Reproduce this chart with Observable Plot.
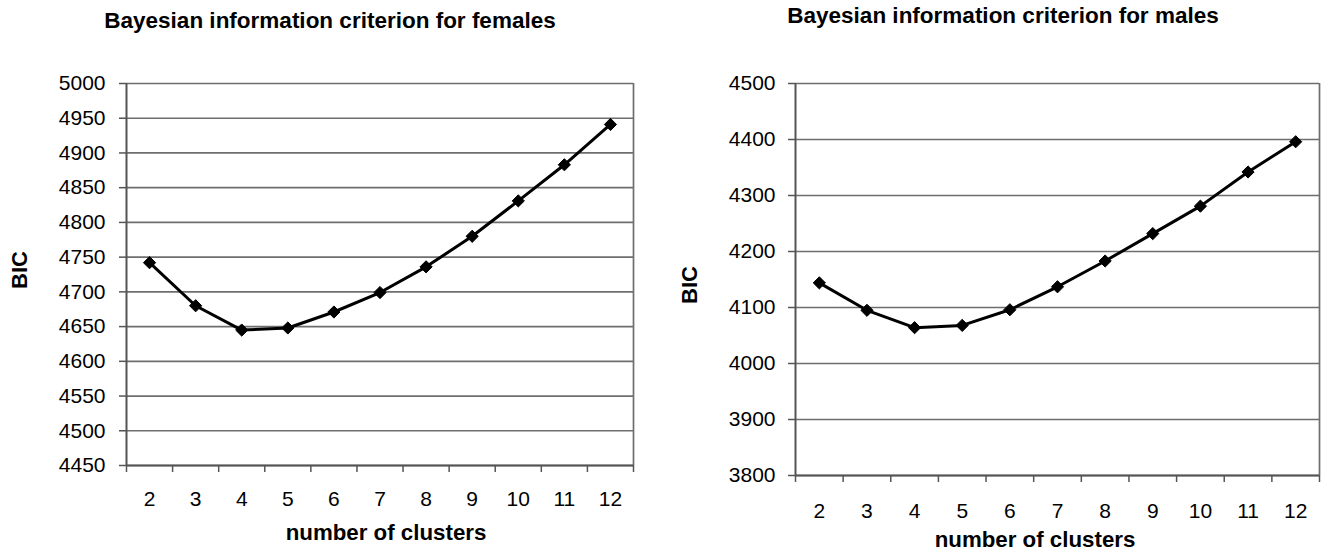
<!DOCTYPE html>
<html>
<head>
<meta charset="utf-8">
<script src="https://cdn.jsdelivr.net/npm/d3@7"></script>
<script src="https://cdn.jsdelivr.net/npm/@observablehq/plot@0.6"></script>
<style>
  html, body { margin: 0; padding: 0; background: #fff; }
  #wrap { position: relative; width: 1321px; height: 554px; overflow: hidden; background: #fff; }
  #wrap > svg { position: absolute; top: 0; }
  .lbl { font-family: "Liberation Sans", Arial, sans-serif; font-weight: bold; fill: #000; }
</style>
</head>
<body>
<div id="wrap"></div>
<script>
// ---- data ----
const clusters = [2, 3, 4, 5, 6, 7, 8, 9, 10, 11, 12];
const bicFemales = [4742, 4680, 4645, 4648, 4671, 4699, 4736, 4780, 4831, 4883, 4941];
const bicMales = [4144, 4095, 4064, 4068, 4096, 4137, 4183, 4232, 4281, 4342, 4396];
const femaleTicks = [4450, 4500, 4550, 4600, 4650, 4700, 4750, 4800, 4850, 4900, 4950, 5000];
const maleTicks = [3800, 3900, 4000, 4100, 4200, 4300, 4400, 4500];
const titleFemales = "Bayesian information criterion for females";
const titleMales = "Bayesian information criterion for males";
const xLabel = "number of clusters";
const yLabel = "BIC";

const font = "Liberation Sans, Arial, sans-serif";
const edges = clusters.map(c => c - 0.5).concat([clusters[clusters.length - 1] + 0.5]);

function chart({values, ticks, width, marginLeft, marginRight, marginBottom, yPad, xPad}) {
  const data = clusters.map((c, i) => ({k: c, v: values[i]}));
  const domain = [ticks[0], ticks[ticks.length - 1]];
  const node = Plot.plot({
    width, height: 554,
    marginLeft, marginRight, marginTop: 83, marginBottom,
    style: {fontFamily: font, fontSize: "21px", color: "#000", background: "transparent", overflow: "visible"},
    x: {domain: [edges[0], edges[edges.length - 1]], axis: null},
    y: {domain, axis: null},
    marks: [
      Plot.gridY(ticks, {stroke: "#6e6e6e", strokeOpacity: 1, strokeWidth: 1.7}),
      Plot.ruleX([edges[edges.length - 1]], {stroke: "#6e6e6e", strokeWidth: 1.7}),
      Plot.axisY(ticks, {tickSize: 7, tickPadding: yPad, stroke: "#555", strokeWidth: 1.5, fontSize: 21, tickFormat: d => String(d), label: null}),
      Plot.axisX(edges, {tickSize: 7, tickFormat: () => "", stroke: "#555", strokeWidth: 1.5, label: null}),
      Plot.axisX(clusters, {tickSize: 0, tickPadding: xPad, fontSize: 21, tickFormat: d => String(d), label: null}),
      Plot.ruleY([domain[0]], {stroke: "#555", strokeWidth: 2}),
      Plot.ruleX([edges[0]], {stroke: "#555", strokeWidth: 2}),
      Plot.line(data, {x: "k", y: "v", stroke: "#000", strokeWidth: 3}),
      Plot.dot(data, {x: "k", y: "v", symbol: "diamond2", r: 5.5, fill: "#000", stroke: "#000", strokeWidth: 1})
    ]
  });
  d3.select(node).selectAll("text").attr("font-size", 21).style("font-size", "21px").style("fill", "#000");
  return node;
}

const wrap = document.getElementById("wrap");

const left = chart({values: bicFemales, ticks: femaleTicks, width: 660, marginLeft: 126, marginRight: 27, marginBottom: 89, yPad: 14, xPad: 26});
left.style.left = "0px";
wrap.appendChild(left);

const right = chart({values: bicMales, ticks: maleTicks, width: 661, marginLeft: 135, marginRight: 2, marginBottom: 79, yPad: 13, xPad: 28});
right.style.left = "660px";
wrap.appendChild(right);

// overlay with titles and axis labels
const svg = d3.create("svg").attr("width", 1321).attr("height", 554).style("left", "0px");
function label(text, x, y, size, rotate) {
  const t = svg.append("text").attr("class", "lbl").attr("text-anchor", "middle")
    .attr("font-size", size).text(text);
  if (rotate) t.attr("transform", `translate(${x},${y}) rotate(-90)`).attr("dy", "0.36em");
  else t.attr("x", x).attr("y", y);
}
label(titleFemales, 330, 28, 22.5, false);
label(titleMales, 1003, 23, 22.5, false);
label(xLabel, 386, 540, 22.3, false);
label(xLabel, 1035, 547, 22.3, false);
label(yLabel, 19, 270, 22, true);
label(yLabel, 689, 285, 22, true);
wrap.appendChild(svg.node());
</script>
</body>
</html>
